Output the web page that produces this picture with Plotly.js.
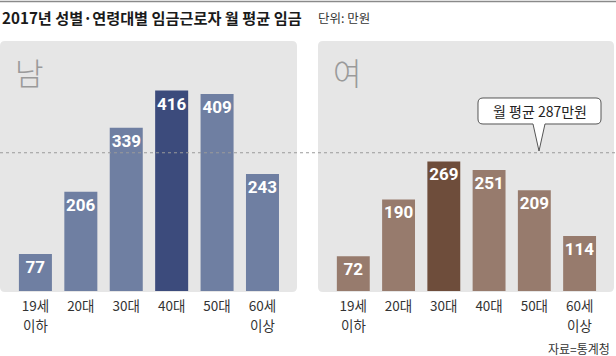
<!DOCTYPE html>
<html><head><meta charset="utf-8">
<script src="https://cdn.plot.ly/plotly-3.0.1.min.js"></script>
<style>html,body{margin:0;padding:0;background:#fff}</style>
</head><body><div id="chart" style="width:616px;height:356px"></div>
<script>
const ageGroups = ['19세 이하','20대','30대','40대','50대','60세 이상'];
const tickLine1 = ['19세','20대','30대','40대','50대','60세'];
const tickLine2 = ['이하','','','','','이상'];
const maleWages = [77, 206, 339, 416, 409, 243];
const femaleWages = [72, 190, 269, 251, 209, 114];
const overallAverage = 287;
const titleText = '2017년 성별·연령대별 임금근로자 월 평균 임금';
const unitText = '단위: 만원';
const sourceText = '자료=통계청';
const maleLabel = '남';
const femaleLabel = '여';
const calloutText = '월 평균 ' + overallAverage + '만원';

const W = 616, H = 356;
const px = x => x / W, py = y => 1 - y / H;
const KR = '"Noto Sans CJK KR", "Noto Sans", sans-serif';
const NUM = 'Roboto, "Noto Sans CJK KR", sans-serif';

function colorsFor(vals, normal, hi) {
  const m = Math.max(...vals);
  return vals.map(v => v === m ? hi : normal);
}
function rr(x0, y0, x1, y1, r) {
  const P = (x, y) => px(x).toFixed(5) + ',' + py(y).toFixed(5);
  return 'M' + P(x0 + r, y0) + ' L' + P(x1 - r, y0) + ' Q' + P(x1, y0) + ' ' + P(x1, y0 + r) +
    ' L' + P(x1, y1 - r) + ' Q' + P(x1, y1) + ' ' + P(x1 - r, y1) +
    ' L' + P(x0 + r, y1) + ' Q' + P(x0, y1) + ' ' + P(x0, y1 - r) +
    ' L' + P(x0, y0 + r) + ' Q' + P(x0, y0) + ' ' + P(x0 + r, y0) + ' Z';
}
function bubble(x0, y0, x1, y1, r, tx, ty, hw) {
  const P = (x, y) => px(x).toFixed(5) + ',' + py(y).toFixed(5);
  return 'M' + P(x0 + r, y0) + ' L' + P(x1 - r, y0) + ' Q' + P(x1, y0) + ' ' + P(x1, y0 + r) +
    ' L' + P(x1, y1 - r) + ' Q' + P(x1, y1) + ' ' + P(x1 - r, y1) +
    ' L' + P(tx + hw, y1) + ' L' + P(tx, ty) + ' L' + P(tx - hw, y1) +
    ' L' + P(x0 + r, y1) + ' Q' + P(x0, y1) + ' ' + P(x0, y1 - r) +
    ' L' + P(x0, y0 + r) + ' Q' + P(x0, y0) + ' ' + P(x0 + r, y0) + ' Z';
}

const barCommon = {
  type: 'bar',
  texttemplate: '%{y}',
  textposition: 'inside',
  insidetextanchor: 'end',
  textangle: 0,
  textfont: {family: NUM, size: 17, color: '#ffffff', weight: 'bold'},
  hoverinfo: 'skip',
  cliponaxis: false
};
const traces = [
  Object.assign({}, barCommon, {x: ageGroups, y: maleWages, xaxis: 'x', yaxis: 'y',
    marker: {color: colorsFor(maleWages, '#6f7fa2', '#3c4b7c')}}),
  Object.assign({}, barCommon, {x: ageGroups, y: femaleWages, xaxis: 'x2', yaxis: 'y2',
    marker: {color: colorsFor(femaleWages, '#977b6d', '#6e4d3b')}})
];

const xRange = [-0.78, 5.76];
const yRange = [0, 519];
const yDom = [py(291), py(41)];
const tickFont = {family: KR, size: 13.5, color: '#333'};
const xCommon = {
  type: 'category', range: xRange, showgrid: false, zeroline: false, showline: false,
  ticks: '', tickvals: ageGroups, ticktext: tickLine1, ticklabelstandoff: 5,
  tickfont: tickFont, fixedrange: true
};
const yCommon = {range: yRange, domain: yDom, visible: false, fixedrange: true};

const secondLines = [];
['x', 'x2'].forEach(ax => {
  ageGroups.forEach((g, i) => {
    if (tickLine2[i]) {
      secondLines.push({xref: ax, yref: 'paper', x: g, y: py(325), xanchor: 'center', yanchor: 'middle',
        showarrow: false, text: tickLine2[i], font: tickFont});
    }
  });
});

const layout = {
  width: W, height: H,
  margin: {l: 0, r: 0, t: 0, b: 0},
  paper_bgcolor: '#ffffff', plot_bgcolor: 'rgba(0,0,0,0)',
  showlegend: false, bargap: 0.273,
  uniformtext: {mode: 'show', minsize: 17},
  xaxis: Object.assign({}, xCommon, {domain: [0, px(297)], anchor: 'y'}),
  yaxis: Object.assign({}, yCommon, {anchor: 'x'}),
  xaxis2: Object.assign({}, xCommon, {domain: [px(318), px(614)], anchor: 'y2'}),
  yaxis2: Object.assign({}, yCommon, {anchor: 'x2'}),
  shapes: [
    {type: 'line', xref: 'paper', yref: 'paper', x0: 0, x1: 1, y0: py(1.5), y1: py(1.5),
      line: {color: '#8a8a8a', width: 1.5}},
    {type: 'path', xref: 'paper', yref: 'paper', layer: 'below', path: rr(0, 41, 297, 292, 5),
      fillcolor: '#e6e6e6', line: {width: 0}},
    {type: 'path', xref: 'paper', yref: 'paper', layer: 'below', path: rr(318, 41, 614, 292, 5),
      fillcolor: '#e6e6e6', line: {width: 0}},
    {type: 'line', xref: 'paper', yref: 'y', x0: 0, x1: 1, y0: overallAverage, y1: overallAverage,
      line: {color: '#9a9a9a', width: 1, dash: 'dot'}, layer: 'above'},
    {type: 'path', xref: 'paper', yref: 'paper', layer: 'above', path: bubble(478, 98, 601, 124, 5, 539, 151, 6),
      fillcolor: '#ffffff', line: {color: '#555', width: 1}}
  ],
  annotations: [
    {xref: 'paper', yref: 'paper', x: 0, y: py(17), xanchor: 'left', yanchor: 'middle', showarrow: false,
      text: '<b>' + titleText + '</b>', font: {family: KR, size: 15.2, color: '#1a1a1a'}},
    {xref: 'paper', yref: 'paper', x: px(316), y: py(17.5), xanchor: 'left', yanchor: 'middle', showarrow: false,
      text: unitText, font: {family: KR, size: 12.5, color: '#333'}},
    {xref: 'paper', yref: 'paper', x: px(29), y: py(71), xanchor: 'center', yanchor: 'middle', showarrow: false,
      text: maleLabel, font: {family: KR, size: 31, color: '#9a9a9a', weight: 300}},
    {xref: 'paper', yref: 'paper', x: px(347), y: py(71), xanchor: 'center', yanchor: 'middle', showarrow: false,
      text: femaleLabel, font: {family: KR, size: 31, color: '#9a9a9a', weight: 300}},
    {xref: 'paper', yref: 'paper', x: px(539.5), y: py(111), xanchor: 'center', yanchor: 'middle', showarrow: false,
      text: calloutText, font: {family: KR, size: 14, color: '#222'}},
    {xref: 'paper', yref: 'paper', x: px(612), y: py(348), xanchor: 'right', yanchor: 'middle', showarrow: false,
      text: sourceText, font: {family: KR, size: 12, color: '#333'}}
  ].concat(secondLines)
};

Plotly.newPlot('chart', traces, layout, {displayModeBar: false, staticPlot: true});
</script></body></html>
